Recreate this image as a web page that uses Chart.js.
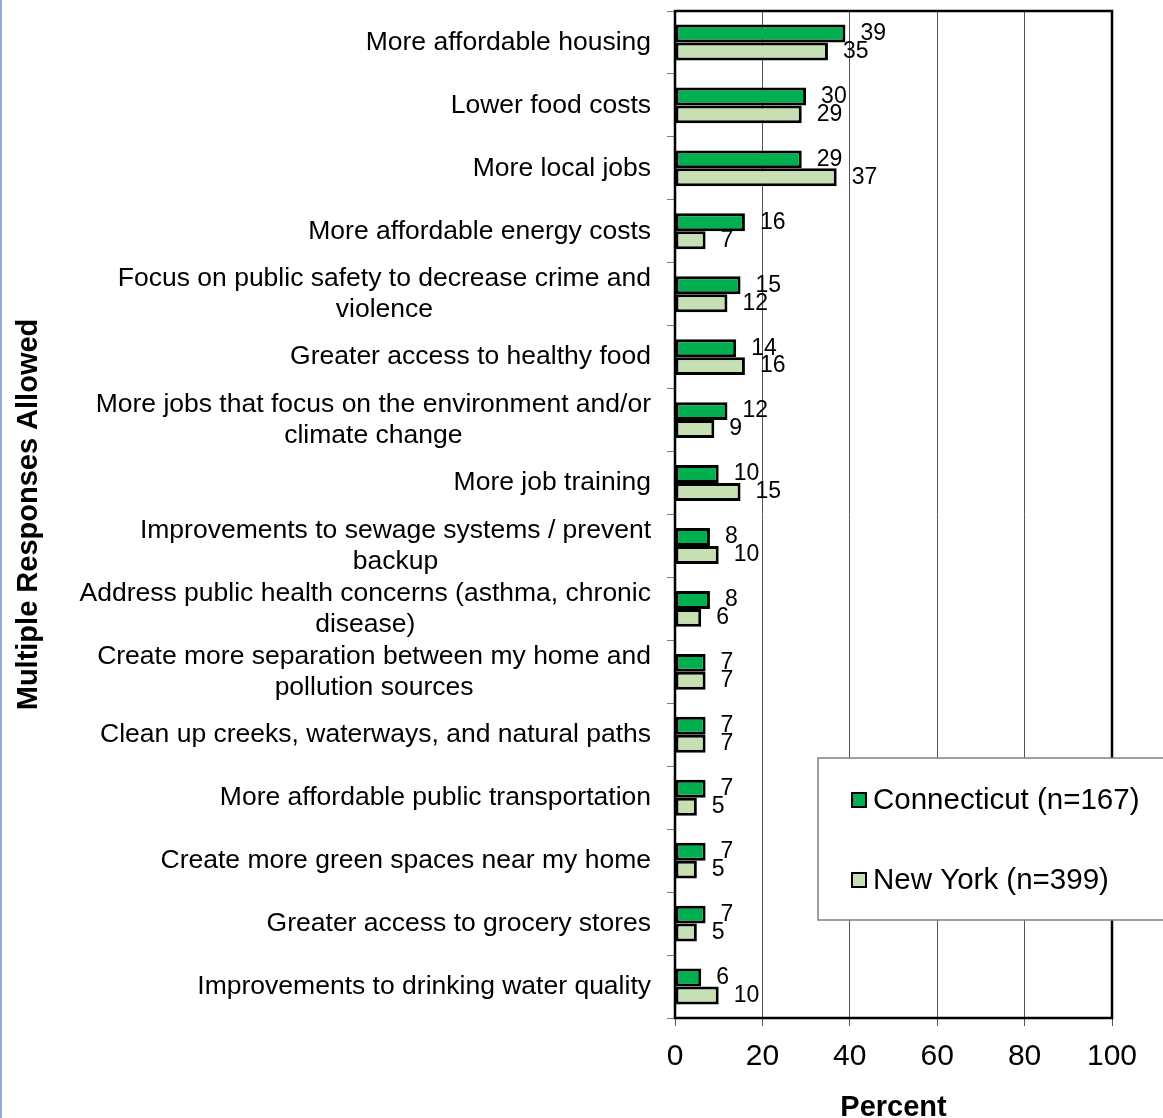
<!DOCTYPE html>
<html>
<head>
<meta charset="utf-8">
<script src="https://cdn.jsdelivr.net/npm/chart.js@4"></script>
<style>
  html, body { margin: 0; padding: 0; background: #fff; }
  canvas { display: block; }
</style>
</head>
<body>
<canvas id="chart" width="1163" height="1118"></canvas>
<script>
// categories (top to bottom), multi-line ones split as in the original
const categories = [
  'More affordable housing',
  'Lower food costs',
  'More local jobs',
  'More affordable energy costs',
  ['Focus on public safety to decrease crime and', 'violence'],
  'Greater access to healthy food',
  ['More jobs that focus on the environment and/or', 'climate change'],
  'More job training',
  ['Improvements to sewage systems / prevent', 'backup'],
  ['Address public health concerns (asthma, chronic', 'disease)'],
  ['Create more separation between my home and', 'pollution sources'],
  'Clean up creeks, waterways, and natural paths',
  'More affordable public transportation',
  'Create more green spaces near my home',
  'Greater access to grocery stores',
  'Improvements to drinking water quality'
];

const connecticut = [39, 30, 29, 16, 15, 14, 12, 10, 8, 8, 7, 7, 7, 7, 7, 6];
const newYork     = [35, 29, 37, 7, 12, 16, 9, 15, 10, 6, 7, 7, 5, 5, 5, 10];

const seriesNames = ['Connecticut (n=167)', 'New York (n=399)'];
const xTicks = [0, 20, 40, 60, 80, 100];

const FONT = '"Liberation Sans", Arial, sans-serif';

// draws box round plot, category labels, value labels and legend
const extras = {
  id: 'extras',
  beforeDatasetsDraw(chart) {
    const { ctx } = chart;
    ctx.save();
    // blue line on the left edge of the page
    ctx.fillStyle = '#8FAADC';
    ctx.fillRect(0, 0, 2, chart.height);
    ctx.restore();
  },
  afterDatasetsDraw(chart) {
    const { ctx, chartArea: a, scales } = chart;
    ctx.save();

    // plot border
    ctx.strokeStyle = '#000';
    ctx.lineWidth = 2.5;
    ctx.strokeRect(a.left, a.top, a.right - a.left, a.bottom - a.top);

    // category labels, block right aligned, lines centred inside block
    ctx.fillStyle = '#000';
    ctx.font = '26.5px ' + FONT;
    ctx.textBaseline = 'middle';
    ctx.textAlign = 'center';
    const rightEdge = a.left - 24;
    const lh = 31;
    categories.forEach((c, i) => {
      const lines = Array.isArray(c) ? c : [c];
      const w = Math.max(...lines.map(l => ctx.measureText(l).width));
      const cx = rightEdge - w / 2;
      const cy = scales.y.getPixelForValue(i);
      lines.forEach((l, k) => {
        ctx.fillText(l, cx, cy + (k - (lines.length - 1) / 2) * lh);
      });
    });

    // value labels
    ctx.font = '23px ' + FONT;
    ctx.textAlign = 'left';
    chart.data.datasets.forEach((ds, di) => {
      const meta = chart.getDatasetMeta(di);
      meta.data.forEach((bar, i) => {
        ctx.fillText(String(ds.data[i]), bar.x + 15, bar.y);
      });
    });

    // legend box
    const lx = 818, ly = 758, lw = 400, lhgt = 162;
    ctx.fillStyle = '#fff';
    ctx.fillRect(lx, ly, lw, lhgt);
    ctx.strokeStyle = '#7f7f7f';
    ctx.lineWidth = 1.5;
    ctx.strokeRect(lx, ly, lw, lhgt);
    ctx.font = '29.5px ' + FONT;
    chart.data.datasets.forEach((ds, di) => {
      const yy = 800 + di * 80;
      ctx.fillStyle = ds.backgroundColor;
      ctx.fillRect(852, yy - 7, 14, 14);
      ctx.strokeStyle = '#000';
      ctx.lineWidth = 2;
      ctx.strokeRect(852, yy - 7, 14, 14);
      ctx.fillStyle = '#000';
      ctx.textAlign = 'left';
      ctx.fillText(ds.label, 873, yy + 1);
    });

    ctx.restore();
  }
};

new Chart(document.getElementById('chart'), {
  type: 'bar',
  data: {
    labels: categories,
    datasets: [
      {
        label: seriesNames[0],
        data: connecticut,
        backgroundColor: '#00B050',
        borderColor: '#000',
        borderWidth: 3,
        borderSkipped: false
      },
      {
        label: seriesNames[1],
        data: newYork,
        backgroundColor: '#C6E0B4',
        borderColor: '#000',
        borderWidth: 3,
        borderSkipped: false
      }
    ]
  },
  options: {
    indexAxis: 'y',
    responsive: false,
    animation: false,
    devicePixelRatio: 1,
    layout: { padding: { top: 11, right: 51, left: 0, bottom: 0 } },
    datasets: { bar: { categoryPercentage: 0.57, barPercentage: 1 } },
    plugins: {
      legend: { display: false },
      tooltip: { enabled: false }
    },
    scales: {
      x: {
        min: 0,
        max: 100,
        afterBuildTicks: s => { s.ticks = xTicks.map(v => ({ value: v })); },
        afterFit: s => { s.height = 100; },
        grid: { color: '#555', lineWidth: 1, tickLength: 8 },
        border: { display: false },
        ticks: {
          color: '#000',
          padding: 13,
          font: { family: FONT, size: 30 }
        },
        title: {
          display: true,
          text: 'Percent',
          color: '#000',
          font: { family: FONT, size: 29, weight: 'bold', lineHeight: 0.72 },
          padding: { top: 0, bottom: 0 }
        }
      },
      y: {
        afterFit: s => { s.width = 675; },
        grid: { drawOnChartArea: false, color: '#7f7f7f', tickLength: 8 },
        border: { display: false },
        ticks: { display: false },
        title: {
          display: true,
          text: 'Multiple Responses Allowed',
          color: '#000',
          font: { family: FONT, size: 29, weight: 'bold', lineHeight: 1 },
          padding: { top: 14, bottom: 0 }
        }
      }
    }
  },
  plugins: [extras]
});
</script>
</body>
</html>
